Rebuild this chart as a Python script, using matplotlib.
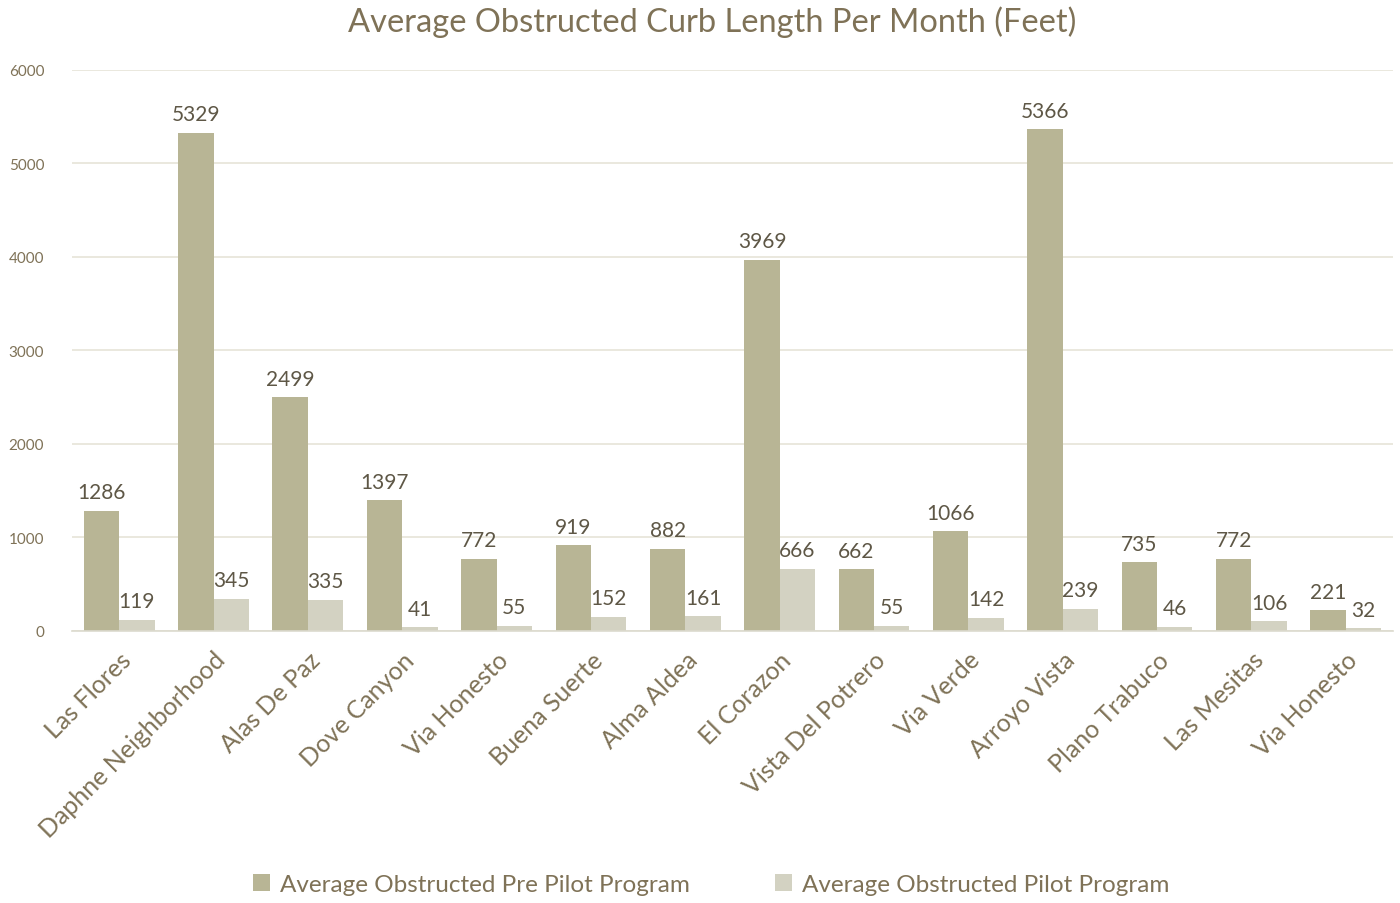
import matplotlib
matplotlib.use("Agg")
import matplotlib.pyplot as plt
import numpy as np

categories = ["Las Flores", "Daphne Neighborhood", "Alas De Paz", "Dove Canyon",
              "Via Honesto", "Buena Suerte", "Alma Aldea", "El Corazon",
              "Vista Del Potrero", "Via Verde", "Arroyo Vista", "Plano Trabuco",
              "Las Mesitas", "Via Honesto"]
pre_pilot = [1286, 5329, 2499, 1397, 772, 919, 882, 3969, 662, 1066, 5366, 735, 772, 221]
pilot = [119, 345, 335, 41, 55, 152, 161, 666, 55, 142, 239, 46, 106, 32]
series_names = ["Average Obstructed Pre Pilot Program", "Average Obstructed Pilot Program"]
title = "Average Obstructed Curb Length Per Month (Feet)"

plt.rcParams['font.family'] = ['Lato', 'DejaVu Sans']
dark = "#b8b595"
light = "#d3d2c2"
txt = "#7f7257"
lbl = "#5e5746"

fig = plt.figure(figsize=(14, 9.04), dpi=100)
ax = fig.add_axes([0.0514, 0.3009, 0.9436, 0.6206])

x = np.arange(len(categories))
w = 0.375
b1 = ax.bar(x - w / 2, pre_pilot, w, color=dark, label=series_names[0], zorder=2)
b2 = ax.bar(x + w / 2, pilot, w, color=light, label=series_names[1], zorder=2)

for rect, v in zip(b1, pre_pilot):
    ax.text(rect.get_x() + rect.get_width() / 2, v + 90, str(v), ha='center', va='bottom',
            fontsize=15, color=lbl)
for rect, v in zip(b2, pilot):
    ax.text(rect.get_x() + rect.get_width() / 2, v + 90, str(v), ha='center', va='bottom',
            fontsize=15, color=lbl)

ax.set_xlim(-0.5, len(categories) - 0.5)
ax.set_ylim(0, 6000)
ax.set_yticks([0, 1000, 2000, 3000, 4000, 5000, 6000])
ax.tick_params(axis='y', length=0, labelsize=11, labelcolor=txt, pad=20)
ax.yaxis.grid(True, color="#e6e4d8", linewidth=1.2, zorder=0)
ax.set_axisbelow(True)
for s in ['top', 'right', 'left']:
    ax.spines[s].set_visible(False)
ax.spines['bottom'].set_color("#dcdace")
ax.spines['bottom'].set_linewidth(1.2)

ax.set_xticks(x)
ax.set_xticklabels(categories, rotation=45, ha='right', rotation_mode='anchor',
                   fontsize=18, color=txt)
ax.tick_params(axis='x', length=0, pad=12)

fig.text(0.5086, 0.975, title, ha='center', va='center', fontsize=23.5, color=txt)

leg = fig.legend(handles=[b1, b2], labels=series_names, loc='center',
                 bbox_to_anchor=(0.508, 0.021), ncol=2, frameon=False,
                 fontsize=17.5, handlelength=0.7, handleheight=0.7,
                 handletextpad=0.4, columnspacing=3.5)
for t in leg.get_texts():
    t.set_color(txt)

fig.savefig("out.png", dpi=100)
